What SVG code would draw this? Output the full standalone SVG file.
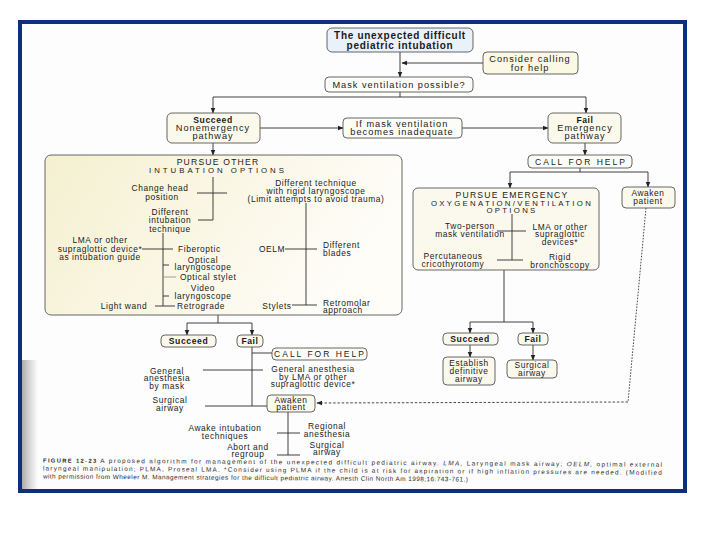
<svg xmlns="http://www.w3.org/2000/svg" width="720" height="540" viewBox="0 0 720 540">
<defs>
<style>
text{font-family:"Liberation Sans",Arial,sans-serif;fill:#1a1a1a;text-anchor:middle}
.t{font-size:8.4px;letter-spacing:0.6px}
.m{font-size:9.2px;letter-spacing:1px}
.b{font-size:8.6px;font-weight:bold;letter-spacing:0.6px}
.tb{font-size:10px;font-weight:bold;letter-spacing:0.7px}
.c{font-size:8.5px;letter-spacing:2px}
.ct{font-size:8.6px;letter-spacing:1.2px}
.cs{font-size:7.8px;letter-spacing:2.3px}
.l{text-anchor:start}
.box{stroke:#555;stroke-width:0.9}
.cream{fill:#fbf9ec}
.ln{stroke:#2a2a2a;stroke-width:0.9;fill:none}
.lt{stroke:#888;stroke-width:0.8;fill:none}
.arr{marker-end:url(#ah)}
.dot{stroke:#333;stroke-width:0.9;fill:none;stroke-dasharray:1.6 1.4}
.cap{font-size:6.4px;text-anchor:start;fill:#2a2a2a}
</style>
<marker id="ah" viewBox="0 0 10 10" refX="9" refY="5" markerWidth="6" markerHeight="6" markerUnits="userSpaceOnUse" orient="auto"><path d="M0,1 L10,5 L0,9 z" fill="#222"/></marker>
<linearGradient id="lg" x1="0" x2="1" y1="0" y2="0.3"><stop offset="0" stop-color="#f5f0d0"/><stop offset="1" stop-color="#fefdf8"/></linearGradient>
<linearGradient id="shade" x1="0" x2="1" y1="0" y2="0"><stop offset="0" stop-color="#666" stop-opacity="0.55"/><stop offset="1" stop-color="#888" stop-opacity="0"/></linearGradient>
</defs>

<rect x="20" y="22" width="665" height="469" fill="#fdfdfd" stroke="#0c2f7e" stroke-width="4"/>
<rect x="22" y="360" width="16" height="129" fill="url(#shade)"/>

<g id="connectors">
<path class="ln arr" d="M400,52 V77"/>
<path class="ln arr" d="M483,63 H402"/>
<path class="ln" d="M400,92 V97 M213,97 H586"/>
<path class="ln arr" d="M213,97 V113"/>
<path class="ln arr" d="M586,97 V113"/>
<path class="ln arr" d="M260,128 H343"/>
<path class="ln arr" d="M462,128 H548"/>
<path class="ln arr" d="M213,143 V155"/>
<path class="ln arr" d="M585,143 V155"/>
<path class="ln" d="M580,168 V172 M510,172 H648"/>
<path class="ln arr" d="M510,172 V188"/>
<path class="ln arr" d="M648,172 V187"/>
<path class="ln" d="M504,270 V322 M470,322 H533"/>
<path class="ln arr" d="M470,322 V333"/>
<path class="ln arr" d="M533,322 V333"/>
<path class="ln arr" d="M470,345 V357"/>
<path class="ln arr" d="M533,345 V360"/>
<path class="ln" d="M218,315 V323 M187,323 H252"/>
<path class="ln arr" d="M187,323 V335"/>
<path class="ln arr" d="M252,323 V335"/>
<path class="ln" d="M252,347 V406 M252,353 H272 M203,370 H263 M205,406 H267"/>
<path class="ln" d="M288,412 V455 M277,433 H300 M277,455 H300"/>
<path class="dot" d="M646,208 L628,402"/>
<path class="dot arr" d="M628,402 L317,403" style="stroke-dasharray:2.5 1.8"/>
</g>

<g id="n-start">
<rect class="box" x="327" y="28" width="146" height="24" rx="5" fill="#e9f1fa"/>
<text class="tb" x="400" y="39">The unexpected difficult</text>
<text class="tb" x="400" y="48.5">pediatric intubation</text>
</g>

<g id="n-consider">
<rect class="box" x="483" y="52" width="95" height="22" rx="4" fill="#fbf8e4"/>
<text class="m" x="530" y="61.5">Consider calling</text>
<text class="m" x="530" y="70.5">for help</text>
</g>

<g id="n-mask">
<rect class="box" x="325" y="77" width="148" height="15" rx="4" fill="#fdfdf8"/>
<text class="m" x="399" y="88">Mask ventilation possible?</text>
</g>

<g id="n-succeed1">
<rect class="box cream" x="167" y="113" width="93" height="30" rx="5"/>
<text class="b" x="213" y="122.5">Succeed</text>
<text class="m" x="213" y="131">Nonemergency</text>
<text class="m" x="213" y="139">pathway</text>
</g>

<g id="n-inadequate">
<rect class="box" x="343" y="118" width="119" height="20" rx="4" fill="#fdfdf8"/>
<text class="m" x="402" y="126.5">If mask ventilation</text>
<text class="m" x="402" y="135">becomes inadequate</text>
</g>

<g id="n-fail1">
<rect class="box cream" x="548" y="113" width="73" height="30" rx="5"/>
<text class="b" x="585" y="122.5">Fail</text>
<text class="m" x="585" y="131">Emergency</text>
<text class="m" x="585" y="139">pathway</text>
</g>

<g id="n-callhelp1">
<rect class="box" x="528" y="155" width="104" height="13" rx="4" fill="#fdfdf8"/>
<text class="c" x="581" y="164.5">CALL FOR HELP</text>
</g>

<g id="n-other">
<rect class="box" x="45" y="155" width="357" height="160" rx="6" fill="url(#lg)"/>
<text class="ct" x="218" y="165">PURSUE OTHER</text>
<text class="cs" x="218" y="173" style="letter-spacing:3px">INTUBATION OPTIONS</text>
<path class="ln" d="M213,177 V220 H198 M197,193 H227"/>
<text class="t" x="160" y="191">Change head</text>
<text class="t" x="162" y="199.5">position</text>
<text class="t" x="316" y="186">Different technique</text>
<text class="t" x="316" y="193.8">with rigid laryngoscope</text>
<text class="t" x="316" y="201.5">(Limit attempts to avoid trauma)</text>
<text class="t" x="170" y="214.5">Different</text>
<text class="t" x="170" y="223">intubation</text>
<text class="t" x="170" y="231.5">technique</text>
<path class="ln" d="M306,203 V305 M285,249 H317 M292,305 H317"/>
<text class="t" x="272" y="252">OELM</text>
<text class="t l" x="323" y="248">Different</text>
<text class="t l" x="323" y="255.5">blades</text>
<text class="t" x="277" y="309">Stylets</text>
<text class="t l" x="323" y="305.5">Retromolar</text>
<text class="t l" x="323" y="312.5">approach</text>
<path class="ln" d="M163,233 V306 M142,249 H173 M155,306 H175 M163,265 H169 M163,296 H169"/>
<path class="lt" d="M164,277 H176"/>
<text class="t" x="100" y="243">LMA or other</text>
<text class="t" x="100" y="251.5">supraglottic device*</text>
<text class="t" x="100" y="260">as intubation guide</text>
<text class="t l" x="178" y="252">Fiberoptic</text>
<text class="t" x="203" y="263">Optical</text>
<text class="t" x="203" y="270">laryngoscope</text>
<text class="t l" x="180" y="280">Optical stylet</text>
<text class="t" x="203" y="291">Video</text>
<text class="t" x="203" y="298.5">laryngoscope</text>
<text class="t" x="124" y="309">Light wand</text>
<text class="t l" x="177" y="309">Retrograde</text>
</g>

<g id="n-emergency">
<rect class="box" x="413" y="188" width="186" height="82" rx="5" fill="#fbf9ee"/>
<text class="ct" x="512" y="198">PURSUE EMERGENCY</text>
<text class="cs" x="512" y="205.5">OXYGENATION/VENTILATION</text>
<text class="cs" x="512" y="213">OPTIONS</text>
<path class="ln" d="M512,214 V260 M497,231 H526 M497,260 H523"/>
<text class="t" x="470" y="229">Two-person</text>
<text class="t" x="470" y="236.5">mask ventilation</text>
<text class="t" x="560" y="230">LMA or other</text>
<text class="t" x="560" y="237">supraglottic</text>
<text class="t" x="560" y="244.5">devices*</text>
<text class="t" x="453" y="259">Percutaneous</text>
<text class="t" x="453" y="266.5">cricothyrotomy</text>
<text class="t" x="560" y="260">Rigid</text>
<text class="t" x="560" y="267.5">bronchoscopy</text>
</g>

<g id="n-awaken1">
<rect class="box cream" x="622" y="187" width="53" height="21" rx="4"/>
<text class="t" x="648" y="196">Awaken</text>
<text class="t" x="648" y="204">patient</text>
</g>

<g id="n-succeed2">
<rect class="box cream" x="443" y="333" width="55" height="12" rx="4"/>
<text class="b" x="470" y="342">Succeed</text>
</g>
<g id="n-fail2">
<rect class="box cream" x="518" y="333" width="30" height="12" rx="4"/>
<text class="b" x="533" y="342">Fail</text>
</g>
<g id="n-establish">
<rect class="box cream" x="443" y="357" width="52" height="28" rx="4"/>
<text class="t" x="469" y="366">Establish</text>
<text class="t" x="469" y="374">definitive</text>
<text class="t" x="469" y="382">airway</text>
</g>
<g id="n-surgical1">
<rect class="box cream" x="507" y="360" width="50" height="18" rx="4"/>
<text class="t" x="532" y="368">Surgical</text>
<text class="t" x="532" y="376">airway</text>
</g>

<g id="n-succeed3">
<rect class="box cream" x="161" y="335" width="55" height="12" rx="4"/>
<text class="b" x="188.5" y="344">Succeed</text>
</g>
<g id="n-fail3">
<rect class="box cream" x="237" y="335" width="26" height="12" rx="4"/>
<text class="b" x="250" y="344">Fail</text>
</g>
<g id="n-callhelp2">
<rect class="box" x="272" y="348" width="95" height="12" rx="4" fill="#fdfdf8"/>
<text class="c" x="320" y="357">CALL FOR HELP</text>
</g>
<g id="n-ga-mask">
<text class="t" x="167" y="373.5">General</text>
<text class="t" x="167" y="381">anesthesia</text>
<text class="t" x="167" y="388.5">by mask</text>
</g>
<g id="n-ga-lma">
<text class="t" x="313" y="372">General anesthesia</text>
<text class="t" x="313" y="379.5">by LMA or other</text>
<text class="t" x="313" y="387">supraglottic device*</text>
</g>
<g id="n-surgical2">
<text class="t" x="170" y="403">Surgical</text>
<text class="t" x="170" y="411">airway</text>
</g>
<g id="n-awaken2">
<rect class="box cream" x="267" y="395" width="48" height="17" rx="4"/>
<text class="t" x="291" y="402.5">Awaken</text>
<text class="t" x="291" y="410">patient</text>
</g>
<g id="n-awake-tech">
<text class="t" x="225" y="431">Awake intubation</text>
<text class="t" x="225" y="438.5">techniques</text>
</g>
<g id="n-regional">
<text class="t" x="327" y="429">Regional</text>
<text class="t" x="327" y="436.5">anesthesia</text>
</g>
<g id="n-abort">
<text class="t" x="248" y="449.5">Abort and</text>
<text class="t" x="248" y="456.5">regroup</text>
</g>
<g id="n-surgical3">
<text class="t" x="327" y="447.5">Surgical</text>
<text class="t" x="327" y="454.5">airway</text>
</g>

<g id="caption" transform="rotate(0.4 43 462.5)">
<text class="cap" x="43" y="462.5" textLength="619" lengthAdjust="spacing"><tspan font-weight="bold" font-size="5.8px">FIGURE 12-23</tspan> A proposed algorithm for management of the unexpected difficult pediatric airway. <tspan font-style="italic">LMA,</tspan> Laryngeal mask airway; <tspan font-style="italic">OELM,</tspan> optimal external</text>
<text class="cap" x="43" y="470.5" textLength="619" lengthAdjust="spacing">laryngeal manipulation; PLMA, Proseal LMA. *Consider using PLMA if the child is at risk for aspiration or if high inflation pressures are needed. (Modified</text>
<text class="cap" x="43" y="478.5" textLength="425" lengthAdjust="spacing">with permission from Wheeler M. Management strategies for the difficult pediatric airway. Anesth Clin North Am 1998;16:743-761.)</text>
</g>
</svg>
